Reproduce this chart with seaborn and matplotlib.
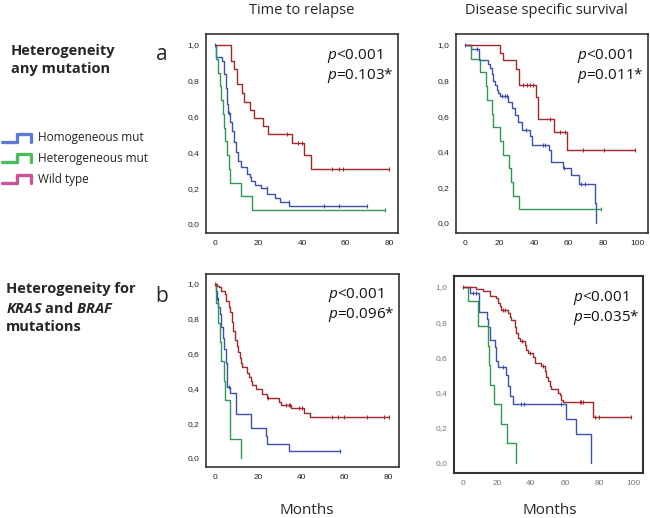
import matplotlib
matplotlib.use("Agg")
import matplotlib.pyplot as plt
from matplotlib.lines import Line2D
from matplotlib.ticker import FuncFormatter, FixedLocator
import numpy as np
import seaborn as sns

sns.set_style("white")
plt.rcParams["font.family"] = ["Open Sans", "DejaVu Sans"]
plt.rcParams["mathtext.fontset"] = "custom"
plt.rcParams["mathtext.rm"] = "Open Sans"
plt.rcParams["mathtext.it"] = "Open Sans:italic"
plt.rcParams["mathtext.bf"] = "Open Sans:bold"
plt.rcParams["mathtext.bfit"] = "Open Sans:italic:bold"

groups = ["Homogeneous mut", "Heterogeneous mut", "Wild type"]
line_colors = ["#3d50ad", "#2f9855", "#a3282d"]
legend_colors = ["#4a6bd0", "#38b54a", "#c2418e"]
col_titles = ["Time to relapse", "Disease specific survival"]
row_titles = ["Heterogeneity\nany mutation", "Heterogeneity for\n$\\bfit{KRAS}$ and $\\bfit{BRAF}$\nmutations"]
row_letters = ["a", "b"]
p_values = [["0.103", "0.011"], ["0.096", "0.035"]]

# ---- a: time to relapse ----
a_ttr_hom_t = [0, 0.6, 3.1, 4.1, 5.2, 5.7, 6.1, 6.8, 7.8, 8.8, 9.8, 10.7, 11.8, 14.9, 16, 16.7, 18.3, 21.3, 24.1, 27.5, 29.8, 34.1]
a_ttr_hom_s = [1, .935, .91, .84, .76, .67, .62, .57, .52, .46, .40, .35, .32, .28, .26, .24, .22, .20, .165, .145, .125, .10]
a_ttr_hom_c = [0, 6.4, 24, 34, 50, 57, 70]
a_ttr_het_t = [0, 0.3, 1.5, 2.5, 3.0, 3.7, 4.3, 4.8, 5.5, 6.3, 7.1, 12.1, 17.0]
a_ttr_het_s = [1, .923, .846, .769, .692, .615, .538, .462, .385, .308, .231, .154, .077]
a_ttr_het_c = [78]
a_ttr_wt_t = [0, 7.2, 8.9, 10.3, 12.6, 13.3, 16.1, 18.1, 22.2, 24.2, 35.2, 41, 44]
a_ttr_wt_s = [1, .912, .864, .78, .73, .683, .637, .59, .547, .50, .45, .385, .31]
a_ttr_wt_c = [33.3, 38, 39.9, 54, 57, 59, 80]

# ---- a: disease specific survival ----
a_dss_hom_t = [0, 3.5, 8.3, 13.5, 14.4, 15.4, 16.3, 17.3, 18.3, 19.2, 20.2, 25, 26.9, 28.8, 30.8, 32.7, 37.5, 38.5, 48.7, 50, 56.7, 61, 66, 75.2, 76]
a_dss_hom_s = [1, .98, .915, .895, .87, .835, .80, .775, .75, .73, .715, .68, .645, .605, .565, .52, .49, .44, .41, .345, .31, .27, .22, .11, 0]
a_dss_hom_c = [0, 6.7, 21.5, 23, 24.4, 35.4, 45, 46.5, 57.3, 67.3, 69.2]
a_dss_het_t = [0, 3.5, 8.7, 11.9, 12.5, 15.4, 16.3, 20.2, 22.1, 25.4, 26.5, 27.5, 31.3]
a_dss_het_s = [1, .923, .846, .769, .692, .615, .538, .462, .385, .308, .231, .154, .077]
a_dss_het_c = [78.5]
a_dss_wt_t = [0, 20.2, 22, 29.2, 31.3, 41.3, 42.3, 51.3, 58.7]
a_dss_wt_s = [1, .957, .914, .864, .776, .71, .583, .51, .41]
a_dss_wt_c = [33.7, 35.6, 37.5, 39.4, 49, 54.8, 57.7, 68.3, 80.2, 98.5]

# ---- b: time to relapse ----
b_ttr_hom_t = [0, 0.3, 0.9, 1.4, 2.2, 2.9, 3.7, 4.2, 4.9, 5.7, 6.8, 9.5, 16.5, 23.4, 24.2, 34.2]
b_ttr_hom_s = [1, .96, .92, .87, .83, .75, .69, .625, .545, .41, .375, .25, .17, .125, .083, .042]
b_ttr_hom_c = [0.9, 6.3, 57.6]
b_ttr_het_t = [0, 0.3, 1.4, 2.2, 2.9, 4.2, 4.6, 6.8, 7.1, 12.2]
b_ttr_het_s = [1, .889, .778, .667, .556, .444, .333, .222, .111, 0]
b_ttr_het_c = []
b_ttr_wt_t = [0, 0.9, 1.8, 2.9, 4.5, 5.2, 6.3, 6.9, 7.7, 8.3, 9.1, 10.2, 10.6, 11.4, 11.9, 12.6, 14.8, 15.7, 16.5, 17.3, 18.8, 21.9, 24, 29.6, 30.7, 35.3, 41.1, 44]
b_ttr_wt_s = [1, .99, .98, .96, .94, .90, .87, .84, .78, .73, .68, .645, .61, .575, .545, .52, .49, .465, .44, .42, .395, .37, .345, .32, .305, .285, .26, .235]
b_ttr_wt_c = [0, 24.3, 33, 34, 34.5, 39, 40.2, 54.2, 56.9, 59.5, 70.4, 78.1, 80.3]

# ---- b: disease specific survival ----
b_dss_hom_t = [0, 3.9, 9.2, 14.1, 14.7, 15.7, 18.6, 19.6, 20.6, 25.5, 26.5, 27.5, 29.4, 60.8, 66.7, 75.5]
b_dss_hom_s = [1, .965, .855, .82, .77, .70, .66, .58, .545, .50, .435, .38, .333, .25, .167, 0]
b_dss_hom_c = [6, 7.5, 23.5, 34.3, 35.7, 57.5]
b_dss_het_t = [0, 2.9, 8.8, 14.7, 15.3, 16, 18, 22.2, 26.1, 31.4]
b_dss_het_s = [1, .92, .78, .667, .555, .445, .333, .222, .111, 0]
b_dss_het_c = []
b_dss_wt_t = [0, 7.8, 11.8, 15.7, 19.6, 20.6, 21.6, 22.5, 26.5, 27.5, 28.4, 30.4, 31.4, 32.4, 33.3, 36.3, 37.3, 38.2, 41.2, 42.2, 46.1, 48, 49, 50, 51, 52, 55.9, 56.9, 57.8, 58.8, 76.5]
b_dss_wt_s = [1, .99, .975, .95, .935, .91, .89, .87, .85, .83, .81, .775, .74, .71, .69, .67, .64, .625, .60, .57, .55, .525, .49, .465, .44, .42, .40, .385, .36, .345, .26]
b_dss_wt_c = [0, 23.5, 25, 34.5, 39.5, 47, 68.6, 69.6, 70.6, 77.5, 80, 99]

panels = [
    [[(a_ttr_hom_t, a_ttr_hom_s, a_ttr_hom_c), (a_ttr_het_t, a_ttr_het_s, a_ttr_het_c), (a_ttr_wt_t, a_ttr_wt_s, a_ttr_wt_c)],
     [(a_dss_hom_t, a_dss_hom_s, a_dss_hom_c), (a_dss_het_t, a_dss_het_s, a_dss_het_c), (a_dss_wt_t, a_dss_wt_s, a_dss_wt_c)]],
    [[(b_ttr_hom_t, b_ttr_hom_s, b_ttr_hom_c), (b_ttr_het_t, b_ttr_het_s, b_ttr_het_c), (b_ttr_wt_t, b_ttr_wt_s, b_ttr_wt_c)],
     [(b_dss_hom_t, b_dss_hom_s, b_dss_hom_c), (b_dss_het_t, b_dss_het_s, b_dss_het_c), (b_dss_wt_t, b_dss_wt_s, b_dss_wt_c)]],
]

W, H = 650, 518
fig = plt.figure(figsize=(6.5, 5.18), dpi=100)

# axes boxes in pixels (left, top, right, bottom) and limits
boxes = [[(206, 34, 398, 233), (456, 34, 648, 233)],
         [(206, 274, 399, 467), (454, 276, 643, 473)]]
xlims = [[(-4.1, 84.1), (-5.2, 105.8)], [(-4.2, 85.1), (-5.3, 105.9)]]
ylims = [[(-0.050, 1.061), (-0.056, 1.062)], [(-0.052, 1.057), (-0.057, 1.062)]]
xticks = [[[0, 20, 40, 60, 80], [0, 20, 40, 60, 80, 100]], [[0, 20, 40, 60, 80], [0, 20, 40, 60, 80, 100]]]


def km(ax, t, s, cens, color):
    tt = list(t) + [max(list(t) + list(cens))]
    ss = list(s) + [s[-1]]
    sns.lineplot(x=tt, y=ss, ax=ax, color=color, lw=1.0, drawstyle="steps-post",
                 estimator=None, sort=False)
    if len(cens):
        idx = np.searchsorted(np.array(t), np.array(cens), side="right") - 1
        sns.scatterplot(x=cens, y=np.array(s)[idx], ax=ax, color=color, marker="|",
                        s=7, linewidth=0.8, zorder=3)


for r in range(2):
    for c in range(2):
        l, t, rr, b = boxes[r][c]
        ax = fig.add_axes([l / W, 1 - b / H, (rr - l) / W, (b - t) / H])
        for g in range(3):
            tt, ss, cc = panels[r][c][g]
            km(ax, tt, ss, cc, line_colors[g])
        ax.set_xlim(*xlims[r][c])
        ax.set_ylim(*ylims[r][c])
        ax.xaxis.set_major_locator(FixedLocator(xticks[r][c]))
        ax.yaxis.set_major_locator(FixedLocator([0, 0.2, 0.4, 0.6, 0.8, 1.0]))
        ax.yaxis.set_major_formatter(FuncFormatter(lambda v, p: f"{v:.1f}".replace(".", ",")))
        lab_col = "#777777" if (r, c) == (1, 1) else "#222222"
        ax.tick_params(direction="out", length=3, width=0.8, labelsize=6, colors="#333333",
                       labelcolor=lab_col, pad=2)
        for lab in ax.get_xticklabels() + ax.get_yticklabels():
            lab.set_family("Liberation Sans")
        for sp in ax.spines.values():
            sp.set_visible(True)
            sp.set_color("#333333")
            sp.set_linewidth(1.2 if (r, c) != (1, 1) else 1.5)
        ax.set_xlabel("")
        ax.set_ylabel("")
        ax.grid(False)
        ax.text(0.63, 0.89, "$\\it{p}$<0.001", transform=ax.transAxes,
                fontsize=11, ha="left", va="center", color="#111111")
        ax.text(0.63, 0.79, "$\\it{p}$=" + p_values[r][c] + "*", transform=ax.transAxes,
                fontsize=11, ha="left", va="center", color="#111111")

# column titles and x labels
fig.text(302 / W, 1 - 10 / H, col_titles[0], ha="center", va="center", fontsize=10.5)
fig.text(546 / W, 1 - 10 / H, col_titles[1], ha="center", va="center", fontsize=10.5)
fig.text(307 / W, 1 - 511 / H, "Months", ha="center", va="center", fontsize=11)
fig.text(550 / W, 1 - 511 / H, "Months", ha="center", va="center", fontsize=11)

# row headings
fig.text(11 / W, 1 - 60 / H, row_titles[0], ha="left", va="center", fontsize=10.5,
         fontweight="bold", linespacing=1.35)
fig.text(6 / W, 1 - 308 / H, row_titles[1], ha="left", va="center", fontsize=10.5,
         fontweight="bold", linespacing=1.35)
fig.text(162 / W, 1 - 55 / H, row_letters[0], ha="center", va="center", fontsize=15)
fig.text(162 / W, 1 - 297 / H, row_letters[1], ha="center", va="center", fontsize=15)

# legend
leg_y = [138, 158, 179]
for g in range(3):
    y = leg_y[g]
    xs = np.array([2, 17, 17, 31, 31]) / W
    ys = 1 - np.array([y + 4, y + 4, y - 4, y - 4, y + 4]) / H
    fig.add_artist(Line2D(xs, ys, color=legend_colors[g], lw=2.4, alpha=0.9))
    fig.text(38 / W, 1 - y / H, groups[g], ha="left", va="center", fontsize=8.5, color="#222222")

fig.savefig("out.png", dpi=100)
